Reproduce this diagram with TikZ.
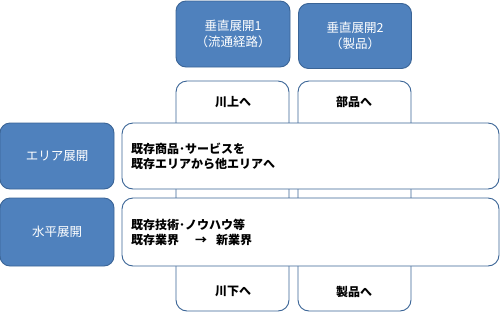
\documentclass[tikz,border=0pt]{standalone}
\usepackage{fontspec}
\setmainfont{Noto Sans CJK JP}
\usepackage{xcolor}
\usepackage{tikz}
\definecolor{hdblue}{HTML}{4F81BD}
\definecolor{hdline}{HTML}{3A6496}

\begin{document}
\begin{tikzpicture}[x=1pt,y=-1pt,
  every node/.style={font=\fontsize{12.5}{16}\selectfont},
  hd/.style={draw=hdline,line width=0.9pt,fill=hdblue,rounded corners=10pt,text=white,align=center,inner sep=0pt},
  col/.style={draw=hdline,line width=0.9pt,fill=white,rounded corners=11pt,inner sep=0pt},
  rw/.style={draw=hdline,line width=0.9pt,fill=white,rounded corners=11pt,inner sep=0pt},
  lbl/.style={font=\fontsize{12}{15}\selectfont\bfseries,align=left,inner sep=0pt}]
 \useasboundingbox (0,0) rectangle (500,314);
 % vertical columns, drawn under the rows
 \node[col,minimum width=113pt,minimum height=230pt] (c1) at (232.5,196) {};
 \node[col,minimum width=113pt,minimum height=230pt] (c2) at (354.5,196) {};
 \node[lbl] (up) at (233,102) {川上へ};
 \node[lbl] (parts) at (354,102) {部品へ};
 \node[lbl] (down) at (233,291) {川下へ};
 \node[lbl] (prod) at (354,292) {製品へ};
 % heads
 \node[hd,minimum width=114pt,minimum height=66pt] (v1) at (233,34) {垂直展開1\\（流通経路）};
 \node[hd,minimum width=113pt,minimum height=65pt] (v2) at (355,36) {垂直展開2\\（製品）};
 \node[hd,minimum width=114pt,minimum height=66pt] (area) at (57,156) {エリア展開};
 \node[hd,minimum width=114pt,minimum height=68pt] (horiz) at (57,232) {水平展開};
 % rows
 \node[rw,minimum width=377pt,minimum height=66pt] (r1) at (310.5,156) {};
 \node[rw,minimum width=377pt,minimum height=68pt] (r2) at (310.5,232) {};
 \node[lbl,anchor=west] (t1) at (131,156) {既存商品･サービスを\\既存エリアから他エリアへ};
 \node[lbl,anchor=west] (t2) at (131,232) {既存技術･ノウハウ等\\既存業界\hspace{16pt}→\hspace{9pt}新業界};
\end{tikzpicture}
\end{document}
